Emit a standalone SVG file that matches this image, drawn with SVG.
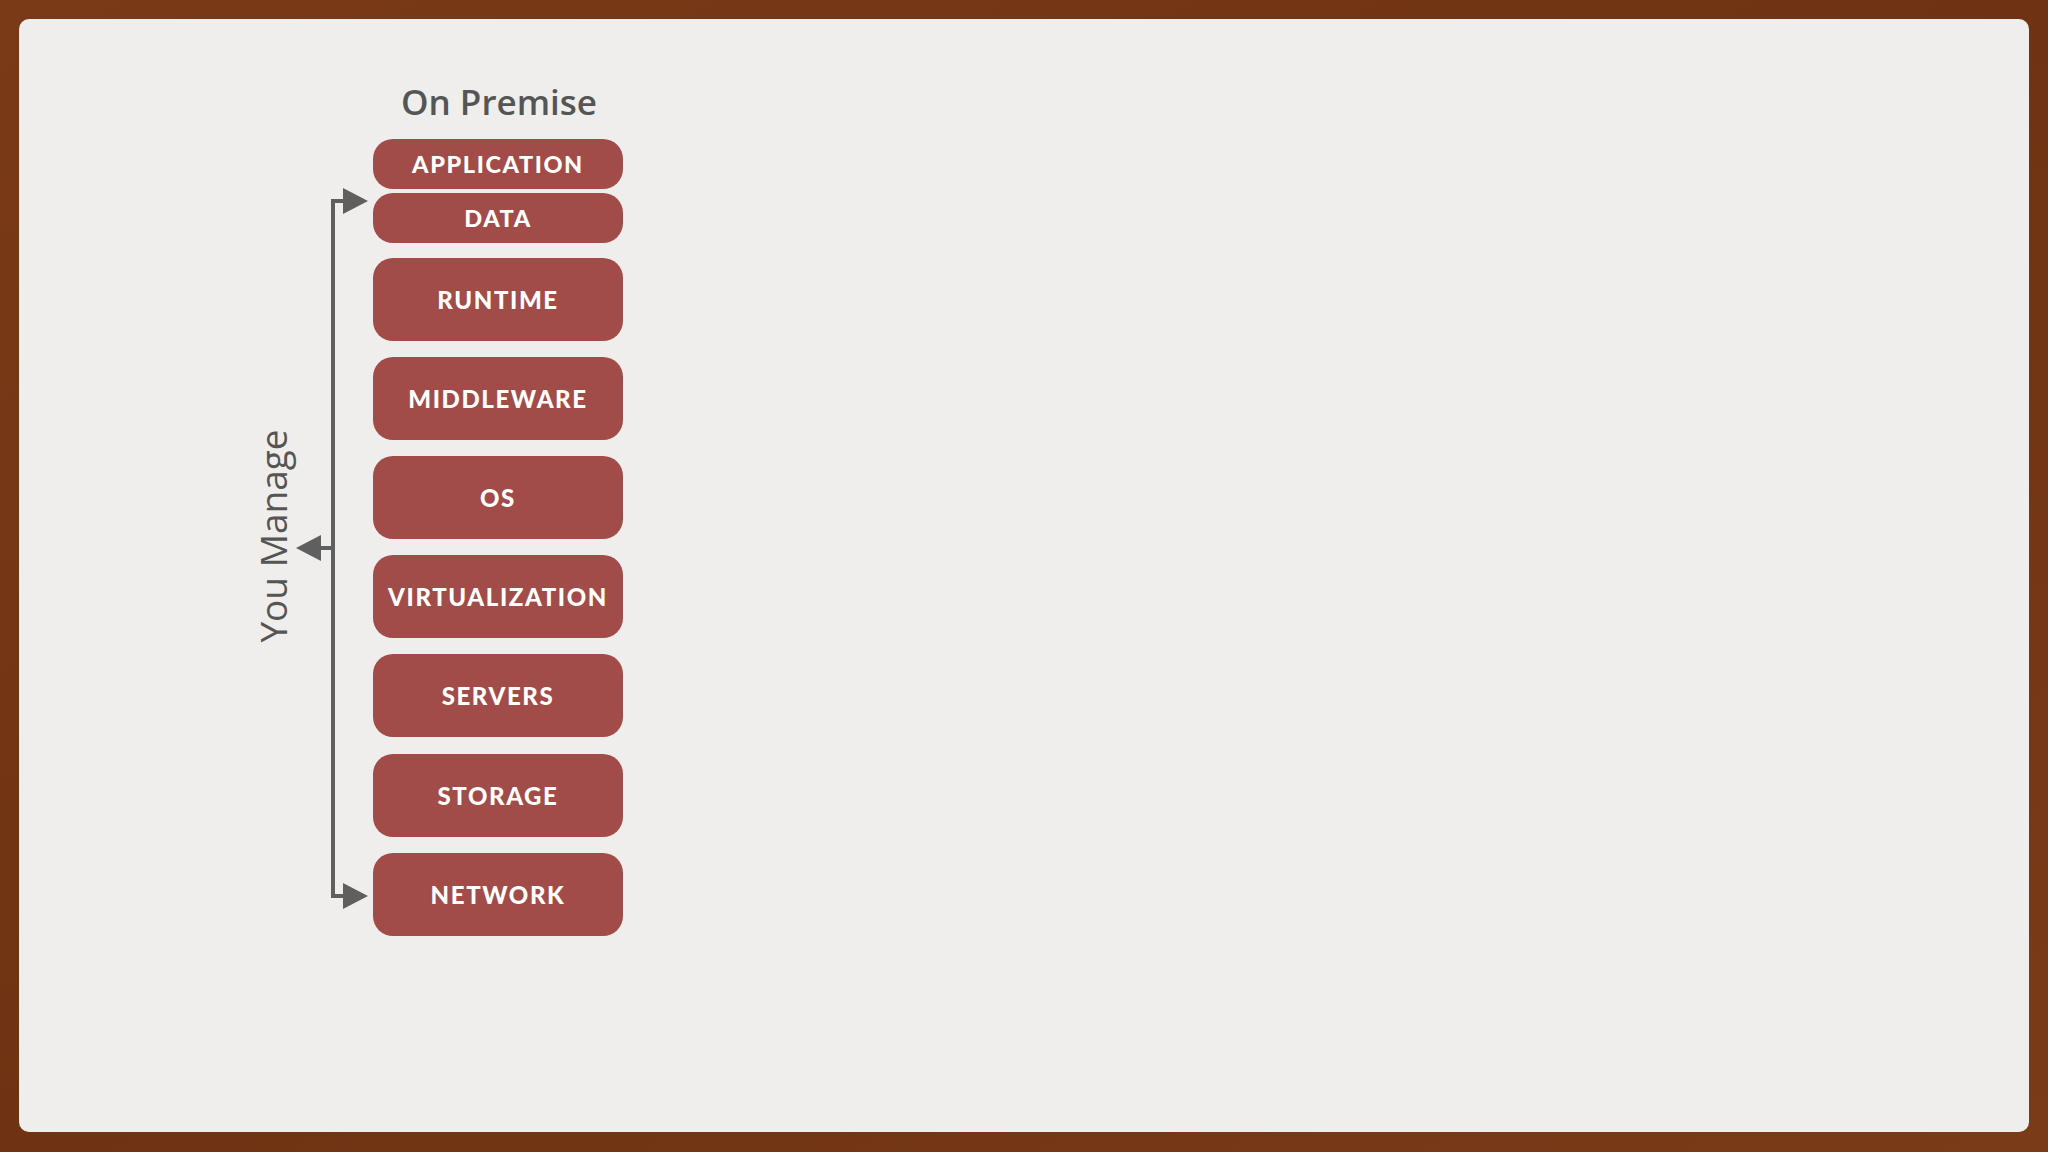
<svg xmlns="http://www.w3.org/2000/svg" width="2048" height="1152" viewBox="0 0 2048 1152">
  <defs>
    <linearGradient id="wood" x1="0" y1="0" x2="1" y2="1">
      <stop offset="0" stop-color="#7a3a17"/>
      <stop offset="0.5" stop-color="#6f3313"/>
      <stop offset="1" stop-color="#7a3b18"/>
    </linearGradient>
    <marker id="head" viewBox="0 0 25 26" refX="15" refY="13" markerWidth="25" markerHeight="26" markerUnits="userSpaceOnUse" orient="auto-start-reverse">
      <path d="M0,0 L25,13 L0,26 z" fill="#5f5f5f"/>
    </marker>
    <style>
      .box { fill: #a14c49; }
      .lbl { font-family: Lato, "Open Sans", "Liberation Sans", sans-serif; font-weight: 900; fill: #ffffff; text-anchor: middle; letter-spacing: 1.6px; }
      .big { font-size: 24px; }
      .small { font-size: 23.5px; }
      .title { font-family: "Open Sans", "Liberation Sans", sans-serif; fill: #555555; }
      .conn { fill: none; stroke: #5f5f5f; stroke-width: 4; }
    </style>
  </defs>

  <rect x="0" y="0" width="2048" height="1152" fill="url(#wood)"/>
  <rect x="19" y="19" width="2010" height="1113" rx="10" fill="#efeeec"/>

  <text class="title" x="499" y="115" font-size="35" font-weight="600" text-anchor="middle">On Premise</text>
  <text class="title" transform="translate(287,536) rotate(-90)" font-size="37" text-anchor="middle">You Manage</text>

  <g id="application"><rect class="box" x="373" y="139" width="250" height="50" rx="20"/><text class="lbl small" x="498" y="173">APPLICATION</text></g>
  <g id="data"><rect class="box" x="373" y="193" width="250" height="50" rx="20"/><text class="lbl small" x="498" y="227">DATA</text></g>
  <g id="runtime"><rect class="box" x="373" y="258" width="250" height="83" rx="20"/><text class="lbl big" x="498" y="309">RUNTIME</text></g>
  <g id="middleware"><rect class="box" x="373" y="357" width="250" height="83" rx="20"/><text class="lbl big" x="498" y="408">MIDDLEWARE</text></g>
  <g id="os"><rect class="box" x="373" y="456" width="250" height="83" rx="20"/><text class="lbl big" x="498" y="507">OS</text></g>
  <g id="virtualization"><rect class="box" x="373" y="555" width="250" height="83" rx="20"/><text class="lbl big" x="498" y="606">VIRTUALIZATION</text></g>
  <g id="servers"><rect class="box" x="373" y="654" width="250" height="83" rx="20"/><text class="lbl big" x="498" y="705">SERVERS</text></g>
  <g id="storage"><rect class="box" x="373" y="754" width="250" height="83" rx="20"/><text class="lbl big" x="498" y="805">STORAGE</text></g>
  <g id="network"><rect class="box" x="373" y="853" width="250" height="83" rx="20"/><text class="lbl big" x="498" y="904">NETWORK</text></g>

  <g id="connectors">
    <path class="conn" d="M358,201 H333 V896 H358" marker-start="url(#head)" marker-end="url(#head)"/>
    <path class="conn" d="M333,548 H306" marker-end="url(#head)"/>
  </g>
</svg>
